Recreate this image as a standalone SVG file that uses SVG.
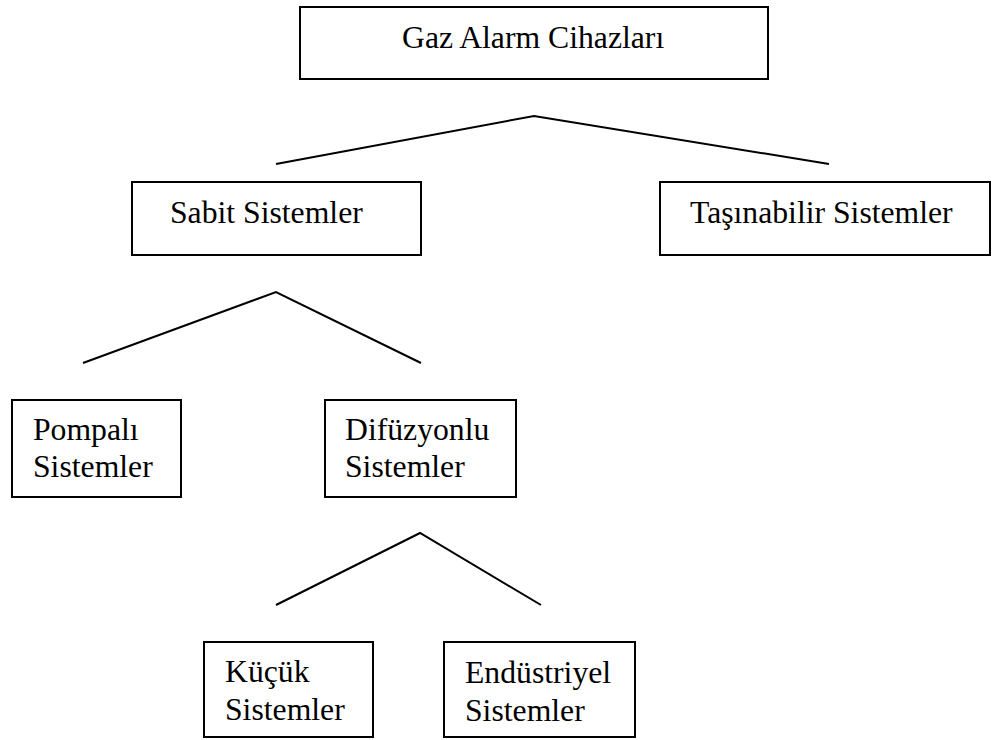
<svg xmlns="http://www.w3.org/2000/svg" width="992" height="740" viewBox="0 0 992 740">
<style>
.box{fill:#fff;stroke:#000;stroke-width:2}
.t{font-family:"Liberation Serif","Times New Roman",serif;font-size:31.7px;fill:#000}
.ln{fill:none;stroke:#000;stroke-width:2}
</style>
<rect width="992" height="740" fill="#fff"/>
<g id="connectors">
<polyline class="ln" points="276,164 534,116 829,164"/>
<polyline class="ln" points="83,363 276,292 421,363"/>
<polyline class="ln" points="276,605 420,533 541,605"/>
</g>
<g id="gaz-alarm">
<rect class="box" x="300" y="7" width="468" height="72"/>
<text class="t" x="402" y="48">Gaz Alarm Cihazları</text>
</g>
<g id="sabit">
<rect class="box" x="132" y="182" width="289" height="73"/>
<text class="t" x="170" y="223">Sabit Sistemler</text>
</g>
<g id="tasinabilir">
<rect class="box" x="660" y="182" width="330" height="73"/>
<text class="t" x="690" y="223">Taşınabilir Sistemler</text>
</g>
<g id="pompali">
<rect class="box" x="12" y="400" width="169" height="97"/>
<text class="t" x="33" y="440">Pompalı</text>
<text class="t" x="33" y="477">Sistemler</text>
</g>
<g id="difuzyonlu">
<rect class="box" x="325" y="400" width="191" height="97"/>
<text class="t" x="345" y="440">Difüzyonlu</text>
<text class="t" x="345" y="477">Sistemler</text>
</g>
<g id="kucuk">
<rect class="box" x="204" y="642" width="169" height="95"/>
<text class="t" x="225" y="682">Küçük</text>
<text class="t" x="225" y="720">Sistemler</text>
</g>
<g id="endustriyel">
<rect class="box" x="444" y="642" width="191" height="95"/>
<text class="t" x="465" y="683">Endüstriyel</text>
<text class="t" x="465" y="721">Sistemler</text>
</g>
</svg>
